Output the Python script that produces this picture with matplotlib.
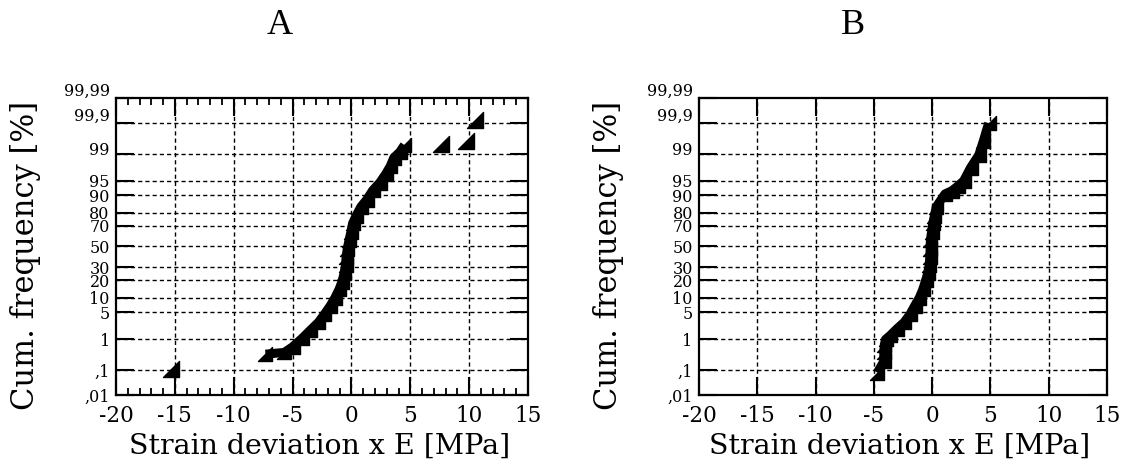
import numpy as np
import matplotlib
matplotlib.use("Agg")
import matplotlib.pyplot as plt
from matplotlib.path import Path
from matplotlib.transforms import ScaledTranslation
from statistics import NormalDist

# ---------------- data ----------------
panel_titles = ["A", "B"]
x_label = "Strain deviation x E [MPa]"
y_label = "Cum. frequency [%]"

y_ticks = [0.01, 0.1, 1, 5, 10, 20, 30, 50, 70, 80, 90, 95, 99, 99.9, 99.99]
y_tick_labels = [",01", ",1", "1", "5", "10", "20", "30", "50", "70", "80",
                 "90", "95", "99", "99,9", "99,99"]
x_ticks = [-20, -15, -10, -5, 0, 5, 10, 15]
x_tick_labels = ["-20", "-15", "-10", "-5", "0", "5", "10", "15"]

a_band_x = [-7.3, -5.7, -5.0, -4.2, -3.5, -2.8, -2.3, -1.8, -1.4, -1.05, -0.8,
            -0.62, -0.5, -0.45, -0.35, -0.2, -0.05, 0.1, 0.4, 0.8, 1.3, 1.8,
            2.4, 2.9, 3.3, 3.6, 4.1, 4.5]
a_band_p = [0.35, 0.40, 0.6, 1.07, 1.8, 2.9, 4.5, 6.9, 10, 14.2, 19, 25.5, 32,
            40, 48, 56.6, 64, 72, 78, 84, 88, 92, 94.5, 96.5, 97.8, 98.7, 99.1,
            99.45]
a_out_x = [-15.3, 7.6, 9.7, 10.5]
a_out_p = [0.107, 99.5, 99.6, 99.92]

b_band_x = [-4.7, -4.15, -4.15, -4.1, -4.0, -3.6, -3.0, -2.4, -1.9, -1.5, -1.1,
            -0.8, -0.55, -0.37, -0.25, -0.2, -0.17, -0.15, -0.05, 0.05, 0.2,
            0.35, 1.1, 1.7, 2.2, 2.7, 3.3, 4.0, 4.4, 4.85]
b_band_p = [0.08, 0.2, 0.4, 0.7, 1.0, 1.3, 2.0, 2.9, 4.5, 6.9, 10, 14.2, 20,
            25.5, 32, 40, 48, 56.6, 64, 72, 78, 84, 90.6, 91.9, 93.5, 95, 97.6,
            98.9, 99.6, 99.9]

# ---------------- probability scale ----------------
_nd = NormalDist()
_ppf = np.vectorize(_nd.inv_cdf, otypes=[float])
_cdf = np.vectorize(_nd.cdf, otypes=[float])


def fwd(p):
    p = np.asarray(p, dtype=float)
    q = np.clip(p / 100.0, 1e-12, 1 - 1e-12)
    return _ppf(q)


def inv(z):
    z = np.asarray(z, dtype=float)
    return _cdf(z) * 100.0


tri = Path([(-1, -1), (1, -1), (1, 1), (-1, -1)],
           [Path.MOVETO, Path.LINETO, Path.LINETO, Path.CLOSEPOLY])

fig = plt.figure(figsize=(11.25, 4.7), dpi=100)
W, H = 1125.0, 470.0

axes_px = [(116, 98, 528, 395), (699, 98, 1107, 395)]
title_px = [(280, 25), (853, 25)]
ylab_px = [(26, 255), (609, 255)]
xlab_px = [(320, 446), (900, 446)]

series = [((a_band_x, a_band_p), (a_out_x, a_out_p), True),
          ((b_band_x, b_band_p), None, False)]

label_font = "DejaVu Serif"

for i, ((bx, bp), outl, minor) in enumerate(series):
    l, t, r, b = axes_px[i]
    ax = fig.add_axes([l / W, 1 - b / H, (r - l) / W, (b - t) / H])
    ax.set_yscale("function", functions=(fwd, inv))
    ax.set_xlim(-20, 15)
    ax.set_ylim(0.01, 99.99)

    ax.set_yticks(y_ticks)
    ax.set_yticklabels(y_tick_labels, family=label_font, fontsize=11.5)
    ax.set_xticks(x_ticks)
    ax.set_xticklabels(x_tick_labels, family=label_font, fontsize=15.5)
    ax.yaxis.set_minor_locator(matplotlib.ticker.NullLocator())
    if minor:
        ax.set_xticks(np.arange(-20, 16, 1), minor=True)
    else:
        ax.xaxis.set_minor_locator(matplotlib.ticker.NullLocator())

    ax.tick_params(axis="both", which="major", direction="in", length=13,
                   width=1.5, color="black", top=True, right=True)
    ax.tick_params(axis="x", which="major", pad=7)
    ax.tick_params(axis="y", which="major", pad=4.5, length=13)
    ax.tick_params(axis="x", which="minor", direction="in", length=5,
                   width=1.3, top=True, bottom=True)

    for sp in ax.spines.values():
        sp.set_linewidth(1.6)
        sp.set_color("black")

    # dashed grid
    for yv in y_ticks[1:-1]:
        ax.axhline(yv, color="black", lw=1.0, ls=(0, (3, 2.2)), zorder=1)
    for xv in x_ticks[1:-1]:
        ax.axvline(xv, color="black", lw=1.0, ls=(0, (3, 2.2)), zorder=1)

    # nudge upper labels upward as in reference
    nudges = {"99,99": 9, "99,9": 9, "99": 5}
    for lab in ax.get_yticklabels():
        dy = nudges.get(lab.get_text(), 0)
        if dy:
            lab.set_transform(lab.get_transform() +
                              ScaledTranslation(0, dy / 100.0, fig.dpi_scale_trans))

    # data
    ax.plot(bx, bp, color="black", lw=6.5, solid_capstyle="butt",
            solid_joinstyle="round", zorder=3)
    ax.plot(bx, bp, ls="none", marker=tri, ms=10.5, color="black", zorder=4)
    if outl is not None:
        ax.plot(outl[0], outl[1], ls="none", marker=tri, ms=11.5,
                color="black", zorder=4)

    tx, ty = title_px[i]
    fig.text(tx / W, 1 - ty / H, panel_titles[i], family="Liberation Serif",
             fontsize=26, ha="center", va="center")
    yx, yy = ylab_px[i]
    fig.text(yx / W, 1 - yy / H, y_label, family=label_font, fontsize=22,
             rotation=90, ha="center", va="center")
    xx, xy = xlab_px[i]
    fig.text(xx / W, 1 - xy / H, x_label, family=label_font, fontsize=20.5,
             ha="center", va="center")

fig.savefig("out.png", dpi=100, facecolor="white")
